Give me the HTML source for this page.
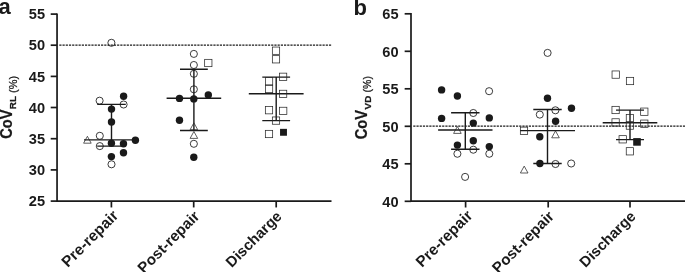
<!DOCTYPE html>
<html><head><meta charset="utf-8"><title>chart</title>
<style>
html,body{margin:0;padding:0;background:#fff;}
body{width:685px;height:272px;overflow:hidden;}
svg{display:block;will-change:transform;font-family:"Liberation Sans",sans-serif;fill:#1a1a1a;}
.tk{font-size:14.6px;font-weight:bold;}
.xl{font-size:15.4px;font-weight:bold;}
.yl{font-size:14.6px;font-weight:bold;stroke:#1a1a1a;stroke-width:0.2px;}
.sub{font-size:9.9px;font-weight:bold;stroke:#1a1a1a;stroke-width:0.25px;}
.pc{font-weight:normal;stroke:#1a1a1a;stroke-width:0.25px;}
.pl{font-size:22px;font-weight:bold;}
</style></head><body>
<svg width="685" height="272" viewBox="0 0 685 272">
<rect width="685" height="272" fill="#fff"/>
<text x="-1.4" y="14" class="pl">a</text>
<text x="353.5" y="15.2" class="pl">b</text>
<path d="M57.05 13.4 V201.15 H331.5" fill="none" stroke="#1a1a1a" stroke-width="1.7"/>
<path d="M50.70 14.10 H57.05" stroke="#1a1a1a" stroke-width="1.7"/>
<text x="45.0" y="19.3" text-anchor="end" class="tk">55</text>
<path d="M50.70 45.20 H57.05" stroke="#1a1a1a" stroke-width="1.7"/>
<text x="45.0" y="50.4" text-anchor="end" class="tk">50</text>
<path d="M50.70 76.40 H57.05" stroke="#1a1a1a" stroke-width="1.7"/>
<text x="45.0" y="81.6" text-anchor="end" class="tk">45</text>
<path d="M50.70 107.50 H57.05" stroke="#1a1a1a" stroke-width="1.7"/>
<text x="45.0" y="112.7" text-anchor="end" class="tk">40</text>
<path d="M50.70 138.70 H57.05" stroke="#1a1a1a" stroke-width="1.7"/>
<text x="45.0" y="143.9" text-anchor="end" class="tk">35</text>
<path d="M50.70 169.90 H57.05" stroke="#1a1a1a" stroke-width="1.7"/>
<text x="45.0" y="175.1" text-anchor="end" class="tk">30</text>
<path d="M50.70 201.10 H57.05" stroke="#1a1a1a" stroke-width="1.7"/>
<text x="45.0" y="206.3" text-anchor="end" class="tk">25</text>
<path d="M111.4 201.15 V207.45000000000002" stroke="#1a1a1a" stroke-width="1.7"/>
<path d="M193.7 201.15 V207.45000000000002" stroke="#1a1a1a" stroke-width="1.7"/>
<path d="M276.2 201.15 V207.45000000000002" stroke="#1a1a1a" stroke-width="1.7"/>
<path d="M59.30 45.13 H331.8" stroke="#1a1a1a" stroke-width="1.45" stroke-dasharray="2.2 1.01"/>
<path d="M111.5 104.4 V146.1 M97.2 104.4 H125.8 M97.2 146.1 H125.8 M84.0 139.9 H139.0" fill="none" stroke="#1a1a1a" stroke-width="1.4"/>
<path d="M193.9 69.2 V130.5 M180.0 69.2 H207.8 M180.0 130.5 H207.8 M166.6 98.2 H221.2" fill="none" stroke="#1a1a1a" stroke-width="1.4"/>
<path d="M276.2 77.1 V120.6 M262.3 77.1 H290.1 M262.3 120.6 H290.1 M248.8 93.8 H303.6" fill="none" stroke="#1a1a1a" stroke-width="1.4"/>
<circle cx="111.4" cy="42.8" r="3.55" fill="none" stroke="#1a1a1a" stroke-width="0.85"/>
<circle cx="99.6" cy="100.7" r="3.55" fill="none" stroke="#1a1a1a" stroke-width="0.85"/>
<circle cx="123.6" cy="96.2" r="3.7" fill="#1a1a1a"/>
<circle cx="123.6" cy="104.5" r="3.55" fill="none" stroke="#1a1a1a" stroke-width="0.85"/>
<circle cx="111.5" cy="109.1" r="3.7" fill="#1a1a1a"/>
<circle cx="111.5" cy="122.0" r="3.7" fill="#1a1a1a"/>
<circle cx="99.8" cy="135.8" r="3.55" fill="none" stroke="#1a1a1a" stroke-width="0.85"/>
<path d="M83.60 143.20 L91.20 143.20 L87.40 136.30 Z" fill="none" stroke="#2a2a2a" stroke-width="0.75" stroke-linejoin="miter"/>
<circle cx="135.4" cy="140.3" r="3.7" fill="#1a1a1a"/>
<circle cx="99.8" cy="146.1" r="3.55" fill="none" stroke="#1a1a1a" stroke-width="0.85"/>
<circle cx="111.4" cy="143.3" r="3.7" fill="#1a1a1a"/>
<circle cx="123.5" cy="143.8" r="3.7" fill="#1a1a1a"/>
<circle cx="123.5" cy="152.8" r="3.7" fill="#1a1a1a"/>
<circle cx="111.4" cy="156.6" r="3.7" fill="#1a1a1a"/>
<circle cx="111.5" cy="164.3" r="3.55" fill="none" stroke="#1a1a1a" stroke-width="0.85"/>
<circle cx="193.85" cy="53.9" r="3.55" fill="none" stroke="#1a1a1a" stroke-width="0.85"/>
<circle cx="193.85" cy="65.0" r="3.55" fill="none" stroke="#1a1a1a" stroke-width="0.85"/>
<rect x="204.65" y="59.35" width="7.3" height="7.3" fill="none" stroke="#2a2a2a" stroke-width="0.75"/>
<circle cx="193.85" cy="73.8" r="3.55" fill="none" stroke="#1a1a1a" stroke-width="0.85"/>
<circle cx="193.85" cy="89.3" r="3.55" fill="none" stroke="#1a1a1a" stroke-width="0.85"/>
<circle cx="179.5" cy="98.4" r="3.7" fill="#1a1a1a"/>
<circle cx="193.8" cy="98.9" r="3.7" fill="#1a1a1a"/>
<circle cx="208.3" cy="95.0" r="3.7" fill="#1a1a1a"/>
<circle cx="179.5" cy="120.2" r="3.7" fill="#1a1a1a"/>
<path d="M190.10 129.70 L197.70 129.70 L193.90 122.80 Z" fill="none" stroke="#2a2a2a" stroke-width="0.75" stroke-linejoin="miter"/>
<path d="M190.10 138.40 L197.70 138.40 L193.90 131.50 Z" fill="none" stroke="#2a2a2a" stroke-width="0.75" stroke-linejoin="miter"/>
<circle cx="193.85" cy="143.8" r="3.55" fill="none" stroke="#1a1a1a" stroke-width="0.85"/>
<circle cx="193.8" cy="157.3" r="3.7" fill="#1a1a1a"/>
<rect x="272.35" y="47.05" width="7.3" height="7.3" fill="none" stroke="#2a2a2a" stroke-width="0.75"/>
<rect x="272.35" y="55.65" width="7.3" height="7.3" fill="none" stroke="#2a2a2a" stroke-width="0.75"/>
<rect x="279.45" y="73.15" width="7.3" height="7.3" fill="none" stroke="#2a2a2a" stroke-width="0.75"/>
<rect x="265.40" y="77.55" width="7.3" height="7.3" fill="none" stroke="#2a2a2a" stroke-width="0.75"/>
<rect x="265.40" y="85.35" width="7.3" height="7.3" fill="none" stroke="#2a2a2a" stroke-width="0.75"/>
<rect x="279.45" y="90.25" width="7.3" height="7.3" fill="none" stroke="#2a2a2a" stroke-width="0.75"/>
<rect x="265.35" y="106.55" width="7.3" height="7.3" fill="none" stroke="#2a2a2a" stroke-width="0.75"/>
<rect x="279.55" y="107.25" width="7.3" height="7.3" fill="none" stroke="#2a2a2a" stroke-width="0.75"/>
<rect x="272.35" y="116.95" width="7.3" height="7.3" fill="none" stroke="#2a2a2a" stroke-width="0.75"/>
<rect x="265.35" y="130.35" width="7.3" height="7.3" fill="none" stroke="#2a2a2a" stroke-width="0.75"/>
<rect x="280.05" y="128.85" width="6.9" height="6.9" fill="#1a1a1a"/>

<text transform="translate(119.2 216.5) rotate(-45)" text-anchor="end" class="xl" style="font-size:15.4px">Pre-repair</text>
<text transform="translate(200.5 217.2) rotate(-45)" text-anchor="end" class="xl" style="font-size:15.2px">Post-repair</text>
<text transform="translate(282.7 217.3) rotate(-45)" text-anchor="end" class="xl" style="font-size:14.9px">Discharge</text>
<text transform="translate(12.1 138.8) rotate(-90) scale(1.0 1.12)" class="yl">CoV</text><text transform="translate(15.90 109.2) rotate(-90)" class="sub">RL</text><text transform="translate(16.70 93.0) rotate(-90) scale(1.0 0.92)" class="pc" style="font-size:11px">(%)</text>
<path d="M411.0 13.1 V201.2 H685" fill="none" stroke="#1a1a1a" stroke-width="1.7"/>
<path d="M404.65 13.80 H411.0" stroke="#1a1a1a" stroke-width="1.7"/>
<text x="398.6" y="19.0" text-anchor="end" class="tk">65</text>
<path d="M404.65 51.30 H411.0" stroke="#1a1a1a" stroke-width="1.7"/>
<text x="398.6" y="56.5" text-anchor="end" class="tk">60</text>
<path d="M404.65 88.80 H411.0" stroke="#1a1a1a" stroke-width="1.7"/>
<text x="398.6" y="94.0" text-anchor="end" class="tk">55</text>
<path d="M404.65 126.30 H411.0" stroke="#1a1a1a" stroke-width="1.7"/>
<text x="398.6" y="131.5" text-anchor="end" class="tk">50</text>
<path d="M404.65 163.80 H411.0" stroke="#1a1a1a" stroke-width="1.7"/>
<text x="398.6" y="169.0" text-anchor="end" class="tk">45</text>
<path d="M404.65 201.30 H411.0" stroke="#1a1a1a" stroke-width="1.7"/>
<text x="398.6" y="206.5" text-anchor="end" class="tk">40</text>
<path d="M465.6 201.2 V207.5" stroke="#1a1a1a" stroke-width="1.7"/>
<path d="M548.2 201.2 V207.5" stroke="#1a1a1a" stroke-width="1.7"/>
<path d="M630.0 201.2 V207.5" stroke="#1a1a1a" stroke-width="1.7"/>
<path d="M413.25 126.13 H686" stroke="#1a1a1a" stroke-width="1.45" stroke-dasharray="2.2 1.01"/>
<path d="M465.3 112.8 V149.3 M451.1 112.8 H479.5 M451.1 149.3 H479.5 M438.1 130.0 H492.5" fill="none" stroke="#1a1a1a" stroke-width="1.4"/>
<path d="M547.5 109.5 V163.5 M533.3 109.5 H561.7 M533.3 163.5 H561.7 M520.0 130.6 H575.0" fill="none" stroke="#1a1a1a" stroke-width="1.4"/>
<path d="M630 110.1 V139.6 M616.0 110.1 H644.0 M616.0 139.6 H644.0 M602.7 122.7 H657.3" fill="none" stroke="#1a1a1a" stroke-width="1.4"/>
<circle cx="441.6" cy="89.9" r="3.7" fill="#1a1a1a"/>
<circle cx="457.4" cy="96.0" r="3.7" fill="#1a1a1a"/>
<circle cx="489.1" cy="91.2" r="3.55" fill="none" stroke="#1a1a1a" stroke-width="0.85"/>
<circle cx="441.6" cy="118.4" r="3.7" fill="#1a1a1a"/>
<circle cx="473.3" cy="113.0" r="3.55" fill="none" stroke="#1a1a1a" stroke-width="0.85"/>
<circle cx="489.3" cy="117.9" r="3.7" fill="#1a1a1a"/>
<circle cx="473.3" cy="123.1" r="3.7" fill="#1a1a1a"/>
<path d="M453.60 133.40 L461.20 133.40 L457.40 126.50 Z" fill="none" stroke="#2a2a2a" stroke-width="0.75" stroke-linejoin="miter"/>
<circle cx="473.3" cy="140.7" r="3.7" fill="#1a1a1a"/>
<circle cx="457.4" cy="145.1" r="3.7" fill="#1a1a1a"/>
<circle cx="489.3" cy="146.6" r="3.7" fill="#1a1a1a"/>
<circle cx="473.3" cy="149.7" r="3.55" fill="none" stroke="#1a1a1a" stroke-width="0.85"/>
<circle cx="457.4" cy="153.75" r="3.55" fill="none" stroke="#1a1a1a" stroke-width="0.85"/>
<circle cx="489.3" cy="153.75" r="3.55" fill="none" stroke="#1a1a1a" stroke-width="0.85"/>
<circle cx="465.1" cy="176.9" r="3.55" fill="none" stroke="#1a1a1a" stroke-width="0.85"/>
<circle cx="547.6" cy="52.9" r="3.55" fill="none" stroke="#1a1a1a" stroke-width="0.85"/>
<circle cx="547.5" cy="98.2" r="3.7" fill="#1a1a1a"/>
<circle cx="571.5" cy="108.3" r="3.7" fill="#1a1a1a"/>
<circle cx="555.4" cy="110.3" r="3.55" fill="none" stroke="#1a1a1a" stroke-width="0.85"/>
<circle cx="539.8" cy="114.6" r="3.55" fill="none" stroke="#1a1a1a" stroke-width="0.85"/>
<circle cx="555.6" cy="121.3" r="3.7" fill="#1a1a1a"/>
<rect x="520.35" y="127.15" width="7.3" height="7.3" fill="none" stroke="#2a2a2a" stroke-width="0.75"/>
<path d="M551.70 137.80 L559.30 137.80 L555.50 130.90 Z" fill="none" stroke="#2a2a2a" stroke-width="0.75" stroke-linejoin="miter"/>
<circle cx="539.8" cy="136.8" r="3.7" fill="#1a1a1a"/>
<circle cx="539.9" cy="163.5" r="3.7" fill="#1a1a1a"/>
<circle cx="555.5" cy="164" r="3.55" fill="none" stroke="#1a1a1a" stroke-width="0.85"/>
<circle cx="571.2" cy="163.5" r="3.55" fill="none" stroke="#1a1a1a" stroke-width="0.85"/>
<path d="M520.40 173.00 L528.00 173.00 L524.20 166.10 Z" fill="none" stroke="#2a2a2a" stroke-width="0.75" stroke-linejoin="miter"/>
<rect x="612.05" y="70.95" width="7.3" height="7.3" fill="none" stroke="#2a2a2a" stroke-width="0.75"/>
<rect x="626.35" y="77.35" width="7.3" height="7.3" fill="none" stroke="#2a2a2a" stroke-width="0.75"/>
<rect x="611.95" y="106.35" width="7.3" height="7.3" fill="none" stroke="#2a2a2a" stroke-width="0.75"/>
<rect x="640.65" y="108.05" width="7.3" height="7.3" fill="none" stroke="#2a2a2a" stroke-width="0.75"/>
<rect x="626.25" y="114.55" width="7.3" height="7.3" fill="none" stroke="#2a2a2a" stroke-width="0.75"/>
<rect x="611.95" y="118.75" width="7.3" height="7.3" fill="none" stroke="#2a2a2a" stroke-width="0.75"/>
<rect x="640.65" y="120.05" width="7.3" height="7.3" fill="none" stroke="#2a2a2a" stroke-width="0.75"/>
<rect x="626.25" y="121.95" width="7.3" height="7.3" fill="none" stroke="#2a2a2a" stroke-width="0.75"/>
<rect x="619.05" y="135.65" width="7.3" height="7.3" fill="none" stroke="#2a2a2a" stroke-width="0.75"/>
<rect x="633.20" y="138.10" width="7.6" height="7.6" fill="#1a1a1a"/>
<rect x="626.25" y="147.65" width="7.3" height="7.3" fill="none" stroke="#2a2a2a" stroke-width="0.75"/>

<text transform="translate(473.4 216.5) rotate(-45)" text-anchor="end" class="xl" style="font-size:15.4px">Pre-repair</text>
<text transform="translate(555.0 217.2) rotate(-45)" text-anchor="end" class="xl" style="font-size:15.2px">Post-repair</text>
<text transform="translate(636.5 217.3) rotate(-45)" text-anchor="end" class="xl" style="font-size:14.9px">Discharge</text>
<text transform="translate(366.5 139.2) rotate(-90) scale(1.0 1.12)" class="yl">CoV</text><text transform="translate(370.80 109.4) rotate(-90)" class="sub">VD</text><text transform="translate(370.70 92.4) rotate(-90) scale(1.0 1.08)" class="pc" style="font-size:10.5px">(%)</text>
</svg>
</body></html>
